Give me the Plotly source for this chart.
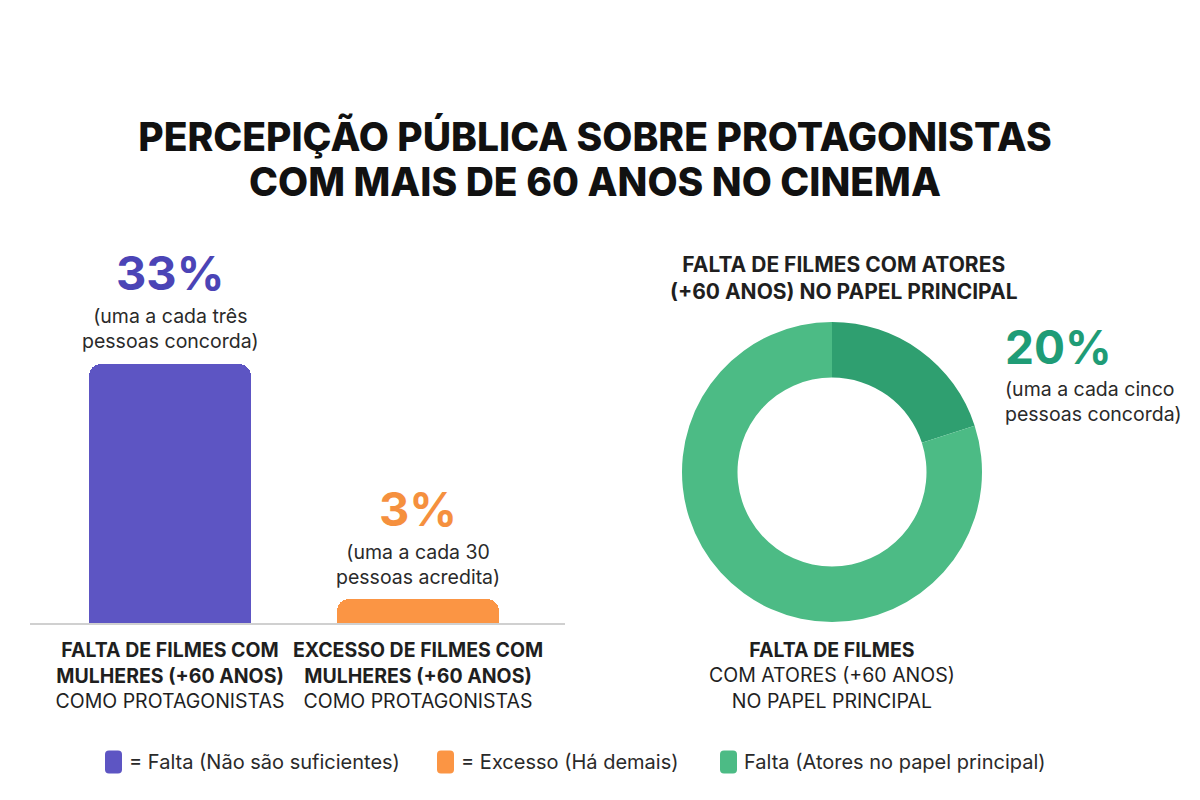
import plotly.graph_objects as go

# ---------------- data ----------------
bar_categories = [
    "<b>FALTA DE FILMES COM<br>MULHERES (+60 ANOS)</b><br>COMO PROTAGONISTAS",
    "<b>EXCESSO DE FILMES COM<br>MULHERES (+60 ANOS)</b><br>COMO PROTAGONISTAS",
]
bar_values = [33, 3]
bar_value_labels = ["33%", "3%"]
bar_notes = ["(uma a cada três<br>pessoas concorda)", "(uma a cada 30<br>pessoas acredita)"]

donut_labels = ["Concorda", "Demais"]
donut_values = [20, 80]
donut_value_label = "20%"
donut_note = "(uma a cada cinco<br>pessoas concorda)"
donut_title = "<b>FALTA DE FILMES COM ATORES<br>(+60 ANOS) NO PAPEL PRINCIPAL</b>"
donut_caption = "<b>FALTA DE FILMES</b><br>COM ATORES (+60 ANOS)<br>NO PAPEL PRINCIPAL"

legend_labels = ["= Falta (Não são suficientes)", "= Excesso (Há demais)", "Falta (Atores no papel principal)"]

title_line1 = "PERCEPIÇÃO PÚBLICA SOBRE PROTAGONISTAS"
title_line2 = "COM MAIS DE 60 ANOS NO CINEMA"

# ---------------- style ----------------
W, H = 1200, 800
PURPLE = "#5d55c3"
PURPLE_TXT = "#4b44b6"
ORANGE = "#fb9544"
ORANGE_TXT = "#f5903e"
GREEN_DARK = "#2f9f70"
GREEN_LIGHT = "#4cbb85"
GREEN_TXT = "#1f9c76"
TXT = "#1f1f1f"
FONT = "Inter, Roboto, sans-serif"

def px(x):
    return x / W

def py(y):
    return 1 - y / H

fig = go.Figure()

fig.add_trace(go.Bar(
    x=[0, 1], y=bar_values,
    width=0.655,
    marker=dict(color=[PURPLE, ORANGE], cornerradius=12, line=dict(width=0)),
    hoverinfo="skip", showlegend=False,
))

fig.add_trace(go.Pie(
    labels=donut_labels, values=donut_values,
    hole=0.63, sort=False, direction="clockwise", rotation=0,
    marker=dict(colors=[GREEN_DARK, GREEN_LIGHT], line=dict(width=0)),
    textinfo="none", hoverinfo="skip", showlegend=False,
    domain=dict(x=[px(682), px(982)], y=[py(622), py(322)]),
))

# x axis: bar centres at 170 and 418 px, axis line from 30 to 565 px
unit = 248.0
fig.update_layout(
    xaxis=dict(
        domain=[px(30), px(565)],
        range=[-(170 - 30) / unit, 1 + (565 - 418) / unit],
        tickvals=[0, 1], ticktext=bar_categories,
        tickfont=dict(family=FONT, size=19.5, color=TXT),
        showline=True, linecolor="#d0d0d0", linewidth=2,
        showgrid=False, zeroline=False, ticks="", ticklabelstandoff=9,
        fixedrange=True,
    ),
    yaxis=dict(
        domain=[py(623), py(309)],
        range=[0, 40], visible=False, showgrid=False, fixedrange=True,
    ),
)

annotations = [
    dict(x=px(595), y=py(181), xref="paper", yref="paper", xanchor="center", yanchor="middle",
         text=title_line2, showarrow=False,
         font=dict(family=FONT, size=39, color="#111111", weight=800)),
]
bar_txt_colors = [PURPLE_TXT, ORANGE_TXT]
for i, v in enumerate(bar_values):
    annotations.append(dict(
        x=i, y=v, xref="x", yref="y", xanchor="center", yanchor="middle", yshift=91,
        text=f"<b>{bar_value_labels[i]}</b>", showarrow=False,
        font=dict(family=FONT, size=47, color=bar_txt_colors[i], weight=800),
    ))
    annotations.append(dict(
        x=i, y=v, xref="x", yref="y", xanchor="center", yanchor="middle", yshift=35,
        text=bar_notes[i], showarrow=False,
        font=dict(family=FONT, size=19.5, color="#2a2a2a"),
    ))

annotations += [
    dict(x=px(844), y=py(278), xref="paper", yref="paper", xanchor="center", yanchor="middle",
         text=donut_title, showarrow=False, font=dict(family=FONT, size=21, color=TXT)),
    dict(x=px(1003), y=py(347), xref="paper", yref="paper", xanchor="left", yanchor="middle",
         text=f"<b>{donut_value_label}</b>", showarrow=False,
         font=dict(family=FONT, size=46, color=GREEN_TXT, weight=800)),
    dict(x=px(1003), y=py(401), xref="paper", yref="paper", xanchor="left", yanchor="middle",
         align="left", text=donut_note, showarrow=False,
         font=dict(family=FONT, size=19.5, color="#2a2a2a")),
    dict(x=px(832), y=py(675), xref="paper", yref="paper", xanchor="center", yanchor="middle",
         text=donut_caption, showarrow=False, font=dict(family=FONT, size=19.5, color=TXT)),
]

# manual legend
shapes = []
legend_colors = [PURPLE, ORANGE, GREEN_LIGHT]
legend_x = [105, 437, 720]
sq_w, sq_h, r = 17, 23, 4
ly = 762
for lx, col, lab in zip(legend_x, legend_colors, legend_labels):
    x0, x1 = lx, lx + sq_w
    y0, y1 = ly - sq_h / 2, ly + sq_h / 2
    path = (f"M {px(x0 + r)},{py(y0)} L {px(x1 - r)},{py(y0)} Q {px(x1)},{py(y0)} {px(x1)},{py(y0 + r)} "
            f"L {px(x1)},{py(y1 - r)} Q {px(x1)},{py(y1)} {px(x1 - r)},{py(y1)} "
            f"L {px(x0 + r)},{py(y1)} Q {px(x0)},{py(y1)} {px(x0)},{py(y1 - r)} "
            f"L {px(x0)},{py(y0 + r)} Q {px(x0)},{py(y0)} {px(x0 + r)},{py(y0)} Z")
    shapes.append(dict(type="path", path=path, xref="paper", yref="paper",
                       fillcolor=col, line=dict(width=0)))
    annotations.append(dict(x=px(lx + 22), y=py(ly), xref="paper", yref="paper",
                            xanchor="left", yanchor="middle", text=lab, showarrow=False,
                            font=dict(family=FONT, size=20, color="#2a2a2a")))

fig.update_layout(
    width=W, height=H,
    margin=dict(l=0, r=0, t=0, b=0),
    paper_bgcolor="white", plot_bgcolor="white",
    title=dict(text=title_line1, x=px(595), xanchor="center", y=py(137), yanchor="middle",
               font=dict(family=FONT, size=39, color="#111111", weight=800)),
    annotations=annotations, shapes=shapes,
    bargap=0,
)

fig.write_html("out.html")
